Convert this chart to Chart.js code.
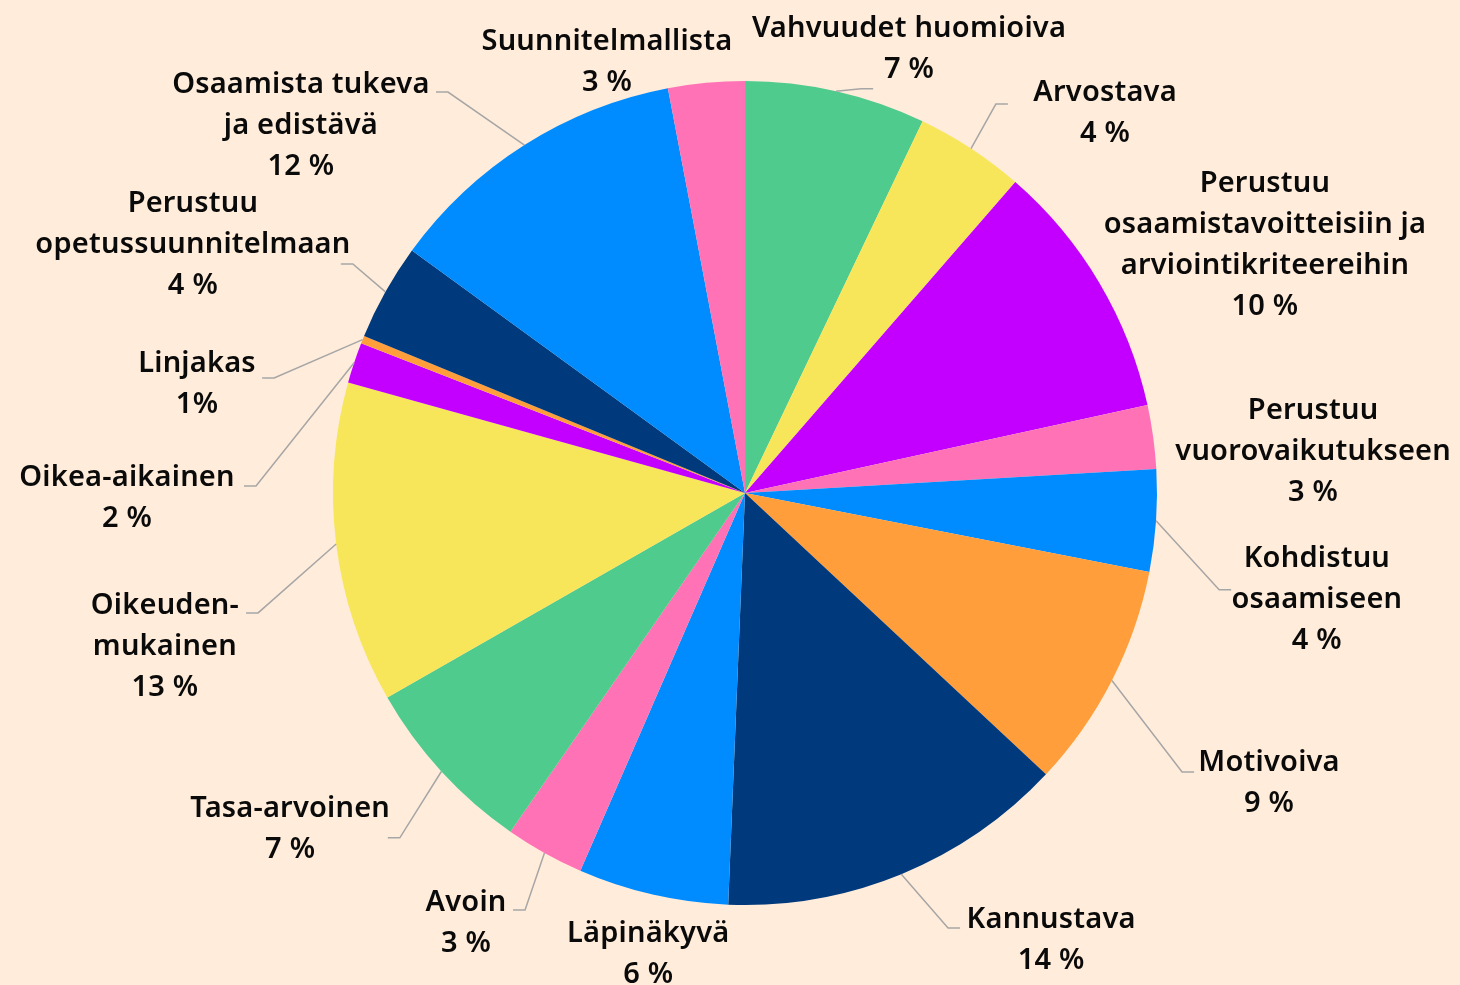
<!DOCTYPE html>
<html lang="fi">
<head>
<meta charset="utf-8">
<title>Palautteen ominaisuudet</title>
<script src="https://cdn.jsdelivr.net/npm/chart.js@4.4.1/dist/chart.umd.min.js"></script>
<style>
    html, body { margin: 0; padding: 0; background: #FFECDA; }
    #kaavio_wrap { width: 1460px; height: 985px; position: relative; }
</style>
</head>
<body>
<div id="kaavio_wrap"><canvas id="kaavio"></canvas></div>
<script>
// --- Data ---
const kategoriat = [
    'Vahvuudet huomioiva',
    'Arvostava',
    'Perustuu\nosaamistavoitteisiin ja\narviointikriteereihin',
    'Perustuu\nvuorovaikutukseen',
    'Kohdistuu\nosaamiseen',
    'Motivoiva',
    'Kannustava',
    'Läpinäkyvä',
    'Avoin',
    'Tasa-arvoinen',
    'Oikeuden-\nmukainen',
    'Oikea-aikainen',
    'Linjakas',
    'Perustuu\nopetussuunnitelmaan',
    'Osaamista tukeva\nja edistävä',
    'Suunnitelmallista'
];
const osuudet = [7.1, 4.3, 10.2, 2.5, 4.0, 8.9, 13.7, 5.9, 3.1, 7.1, 12.6, 1.6, 0.3, 3.8, 12.0, 3.0];
const prosenttiTekstit = ['7 %', '4 %', '10 %', '3 %', '4 %', '9 %', '14 %', '6 %', '3 %', '7 %', '13 %', '2 %', '1%', '4 %', '12 %', '3 %'];

// --- Värit ---
const VIHREA = '#4FCB8E';
const KELTAINEN = '#F8E65A';
const VIOLETTI = '#C300FF';
const PINKKI = '#FF72B6';
const SININEN = '#008CFF';
const ORANSSI = '#FF9E3B';
const TUMMA = '#003A7C';
const varit = [VIHREA, KELTAINEN, VIOLETTI, PINKKI, SININEN, ORANSSI, TUMMA, SININEN,
               PINKKI, VIHREA, KELTAINEN, VIOLETTI, ORANSSI, TUMMA, SININEN, PINKKI];

// --- Selitteiden sijoittelu (suhteessa piirakan säteeseen) ---
// [keskipiste x, keskipiste y, viivan pää x, viivan pää y] tai ilman viivaa
const sijoittelu = [
    [0.398, -1.081, 0.311, -0.981],
    [0.874, -0.926, 0.638, -0.944],
    [1.262, -0.606],
    [1.379, -0.106],
    [1.388, 0.255, 1.180, 0.235],
    [1.272, 0.700, 1.090, 0.677],
    [0.743, 1.081, 0.522, 1.056],
    [-0.235, 1.114],
    [-0.677, 1.039, -0.563, 1.012],
    [-1.104, 0.811, -0.867, 0.837],
    [-1.408, 0.368, -1.211, 0.291],
    [-1.500, 0.007, -1.216, -0.017],
    [-1.330, -0.269, -1.172, -0.279],
    [-1.340, -0.608, -0.981, -0.556],
    [-1.078, -0.897, -0.750, -0.973],
    [-0.335, -1.050]
];

// --- Plugin: selitteet ja johtoviivat ---
const selitePlugin = {
    id: 'selitteet',
    afterDatasetsDraw(chart) {
        const c = chart.ctx;
        const meta = chart.getDatasetMeta(0);
        c.save();
        meta.data.forEach((arc, i) => {
            const p = arc.getProps(['x', 'y', 'startAngle', 'endAngle', 'outerRadius'], true);
            const R = p.outerRadius;
            const keski = (p.startAngle + p.endAngle) / 2;
            const s = sijoittelu[i];

            // johtoviiva
            if (s.length > 2) {
                const vasen = s[0] < 0;
                const x0 = p.x + Math.cos(keski) * R;
                const y0 = p.y + Math.sin(keski) * R;
                const x2 = p.x + s[2] * R;
                const y2 = p.y + s[3] * R;
                const x1 = vasen ? x2 + 12 : x2 - 12;
                c.strokeStyle = '#A6A6A6';
                c.lineWidth = 1.5;
                c.beginPath();
                c.moveTo(x0, y0);
                c.lineTo(x1, y2);
                c.lineTo(x2, y2);
                c.stroke();
            }

            // teksti
            const rivit = kategoriat[i].split('\n').concat([prosenttiTekstit[i]]);
            const riviVali = 41;
            const lx = p.x + s[0] * R;
            const ly = p.y + s[1] * R - (rivit.length - 1) * riviVali / 2 + 2;
            c.fillStyle = '#0A0A0A';
            c.font = '600 29px "Noto Sans"';
            c.letterSpacing = '0.2px';
            c.textAlign = 'center';
            c.textBaseline = 'middle';
            rivit.forEach((rivi, k) => {
                c.fillText(rivi, lx, ly + k * riviVali);
            });
        });
        c.restore();
    }
};

// --- Kaavio ---
const ctx = document.getElementById('kaavio');
const piirakka = new Chart(ctx, {
    type: 'pie',
    data: {
        labels: kategoriat,
        datasets: [{
            data: osuudet,
            backgroundColor: varit,
            borderWidth: 0,
            hoverOffset: 0
        }]
    },
    options: {
        responsive: true,
        maintainAspectRatio: false,
        animation: false,
        layout: {
            padding: { top: 81, bottom: 80, left: 333, right: 303 }
        },
        plugins: {
            legend: { display: false },
            tooltip: { enabled: false }
        }
    },
    plugins: [selitePlugin]
});
</script>
</body>
</html>
